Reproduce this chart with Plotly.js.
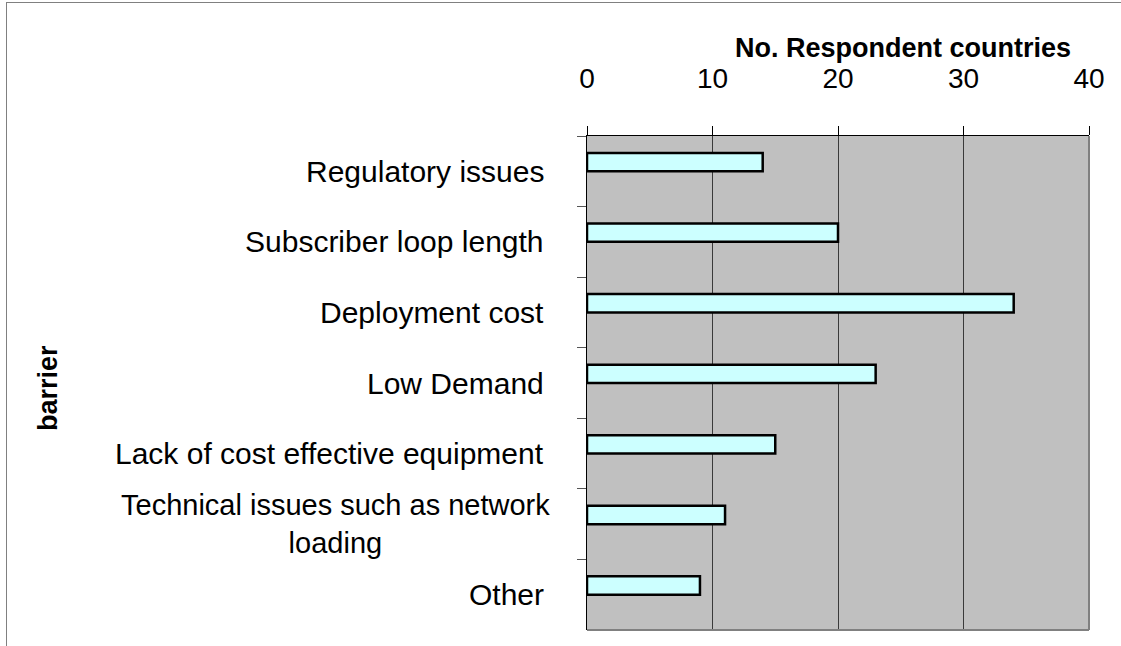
<!DOCTYPE html>
<html>
<head>
<meta charset="utf-8">
<script src="https://cdn.plot.ly/plotly-3.0.1.min.js"></script>
<style>
  html, body { margin: 0; padding: 0; background: #ffffff; }
  #chart { width: 1121px; height: 646px; }
</style>
</head>
<body>
<div id="chart"></div>
<script>
const categories = [
  "Regulatory issues",
  "Subscriber loop length",
  "Deployment cost",
  "Low Demand",
  "Lack of cost effective equipment",
  "Technical issues such as network<br>loading",
  "Other"
];
const values = [14, 20, 34, 23, 15, 11, 9];
const xTickValues = [0, 10, 20, 30, 40];
const xTitle = "No. Respondent countries";
const yTitle = "barrier";

const FONT = "Liberation Sans, Arial, sans-serif";
const W = 1121, H = 646;
const L = 587, R = 1089, T = 136, B = 630;
const pw = R - L, ph = B - T;
const px = v => (v - L) / pw;          // pixel x -> paper
const py = v => (B - v) / ph;          // pixel y -> paper

const trace = {
  type: "bar",
  orientation: "h",
  x: values,
  y: categories,
  width: 0.26,
  offset: -0.26,
  marker: { color: "#CCFFFF", line: { color: "#000000", width: 2.5 } },
  hoverinfo: "x+y"
};

const annotations = categories.map(c => {
  const multi = c.indexOf("<br>") >= 0;
  return {
    xref: "paper", yref: "y",
    x: px(multi ? 552 : 546), y: c,
    xanchor: "right", yanchor: "middle",
    text: c, showarrow: false, align: "center",
    font: { family: FONT, size: multi ? 29 : 30, color: "#000000" }
  };
});
annotations.push({
  xref: "paper", yref: "paper",
  x: px(48), y: py(388),
  xanchor: "center", yanchor: "middle",
  text: "<b>" + yTitle + "</b>", textangle: -90, showarrow: false,
  font: { family: FONT, size: 27, color: "#000000" }
});

const layout = {
  width: W, height: H,
  margin: { l: L, r: W - R, t: T, b: H - B, pad: 0 },
  paper_bgcolor: "#ffffff",
  plot_bgcolor: "#C0C0C0",
  showlegend: false,
  bargap: 0,
  title: {
    text: "<b>" + xTitle + "</b>",
    xref: "paper", x: px(903), xanchor: "center",
    yref: "container", y: 1 - 48 / H, yanchor: "middle",
    font: { family: FONT, size: 27, color: "#000000" }
  },
  xaxis: {
    side: "top",
    range: [0, 40],
    tickmode: "array",
    tickvals: xTickValues,
    ticktext: xTickValues.map(String),
    ticks: "outside", ticklen: 9, tickcolor: "#000000", tickwidth: 1,
    ticklabelstandoff: 27,
    showline: true, linecolor: "#000000", linewidth: 1,
    showgrid: true, gridcolor: "#3a3a3a", gridwidth: 1,
    zeroline: false,
    tickfont: { family: FONT, size: 28, color: "#000000" },
    fixedrange: true
  },
  yaxis: {
    type: "category",
    categoryorder: "array",
    categoryarray: categories,
    autorange: "reversed",
    showticklabels: false,
    ticks: "outside", tickson: "boundaries", ticklen: 9,
    tickcolor: "#555555", tickwidth: 1,
    showline: true, linecolor: "#000000", linewidth: 1,
    showgrid: false, zeroline: false,
    fixedrange: true
  },
  annotations: annotations,
  shapes: [
    { type: "line", xref: "paper", yref: "paper", x0: 1, x1: 1, y0: 0, y1: 1,
      line: { color: "#808080", width: 2 } },
    { type: "line", xref: "paper", yref: "paper", x0: 0, x1: 1, y0: 0, y1: 0,
      line: { color: "#808080", width: 2 } },
    { type: "line", xref: "paper", yref: "paper", x0: px(6.5), x1: px(6.5), y0: py(2), y1: py(H + 5),
      line: { color: "#808080", width: 1 } },
    { type: "line", xref: "paper", yref: "paper", x0: px(6.5), x1: px(W + 5), y0: py(2.5), y1: py(2.5),
      line: { color: "#808080", width: 1 } }
  ]
};

Plotly.newPlot("chart", [trace], layout, { displayModeBar: false, staticPlot: true });
</script>
</body>
</html>
